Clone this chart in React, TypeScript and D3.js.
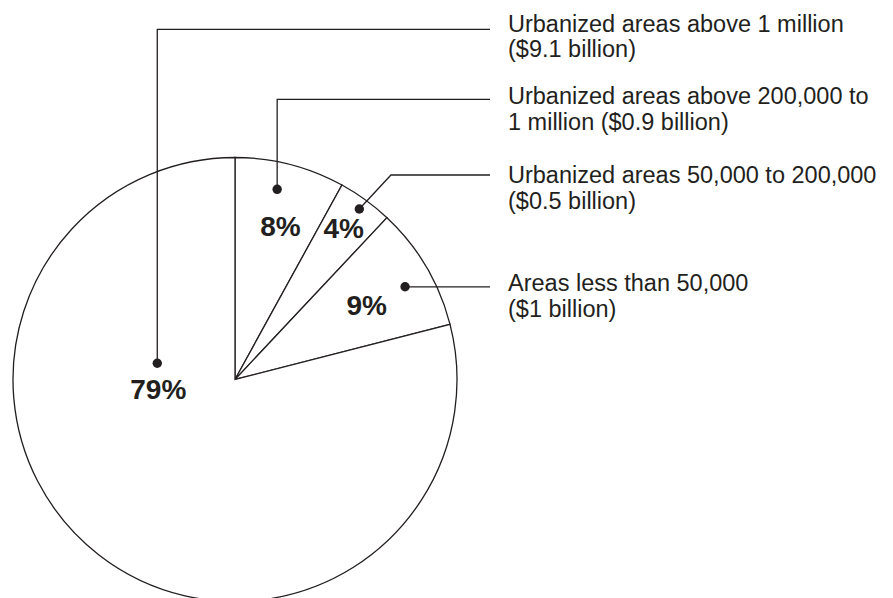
import React from "react";
import * as d3 from "d3";

// ---- data (slice order: clockwise from 12 o'clock) ----
const shares = [8, 4, 9, 79];
const shareLabels = ["8%", "4%", "9%", "79%"];
const categoryLines = [
  ["Urbanized areas above 200,000 to", "1 million ($0.9 billion)"],
  ["Urbanized areas 50,000 to 200,000", "($0.5 billion)"],
  ["Areas less than 50,000", "($1 billion)"],
  ["Urbanized areas above 1 million", "($9.1 billion)"],
];

// ---- layout ----
const W = 893;
const H = 598;
const CX = 235;
const CY = 379.5;
const R = 222;
const INK = "#231f20";
const TEXT_X = 508;
const LEADER_END = 490;
const LINE_GAP = 25.5;

type Kind = "vertical" | "diagonal" | "straight";
const annot: {
  dot: [number, number];
  label: [number, number];
  leaderY: number | null;
  kind: Kind;
  textY: number;
}[] = [
  { dot: [12.5, 194.8], label: [17.65, 150.1], leaderY: 99.3, kind: "vertical", textY: 104 },
  { dot: [36.1, 211], label: [37.6, 178.3], leaderY: 175, kind: "diagonal", textY: 183.3 },
  { dot: [61.4, 193.7], label: [63.9, 146.6], leaderY: null, kind: "straight", textY: 291 },
  { dot: [281.8, 79.4], label: [255.5, 79.2], leaderY: 29.3, kind: "vertical", textY: 31.7 },
];

const polar = (deg: number, r: number): [number, number] => {
  const a = (deg * Math.PI) / 180;
  return [CX + r * Math.sin(a), CY - r * Math.cos(a)];
};

export default function App() {
  const pie = d3.pie<number>().sort(null).startAngle(0).endAngle(2 * Math.PI);
  const arcs = pie(shares);
  const arc = d3.arc<d3.PieArcDatum<number>>().innerRadius(0).outerRadius(R);

  return (
    <div style={{ position: "absolute", left: 0, top: 0 }}>
      <svg width={W} height={H} viewBox={`0 0 ${W} ${H}`} style={{ display: "block", background: "#fff" }}>
        <g transform={`translate(${CX},${CY})`}>
          {arcs.map((a, i) => (
            <path key={i} d={arc(a) || ""} fill="#fff" stroke={INK} strokeWidth={1.3} strokeLinejoin="miter" />
          ))}
        </g>
        {annot.map((an, i) => {
          const [dx, dy] = polar(an.dot[0], an.dot[1]);
          const [lx, ly] = polar(an.label[0], an.label[1]);
          let pts: [number, number][];
          if (an.kind === "vertical" && an.leaderY != null) {
            pts = [[dx, dy], [dx, an.leaderY], [LEADER_END, an.leaderY]];
          } else if (an.kind === "diagonal" && an.leaderY != null) {
            const ex = dx + (dy - an.leaderY) * 0.93;
            pts = [[dx, dy], [ex, an.leaderY], [LEADER_END, an.leaderY]];
          } else {
            pts = [[dx, dy], [LEADER_END, dy]];
          }
          const line = d3.line()(pts) || "";
          return (
            <g key={i}>
              <path d={line} fill="none" stroke={INK} strokeWidth={1.3} />
              <circle cx={dx} cy={dy} r={4.7} fill={INK} />
              <text
                x={lx}
                y={ly}
                textAnchor="middle"
                fontFamily="'Liberation Sans', Arial, Helvetica, sans-serif"
                fontWeight="bold"
                fontSize={28}
                fill={INK}
              >
                {shareLabels[i]}
              </text>
              <text
                x={TEXT_X}
                y={an.textY}
                fontFamily="'Liberation Sans', Arial, Helvetica, sans-serif"
                fontSize={23.5}
                fill={INK}
              >
                {categoryLines[i].map((t, j) => (
                  <tspan key={j} x={TEXT_X} y={an.textY + j * LINE_GAP}>
                    {t}
                  </tspan>
                ))}
              </text>
            </g>
          );
        })}
      </svg>
    </div>
  );
}
